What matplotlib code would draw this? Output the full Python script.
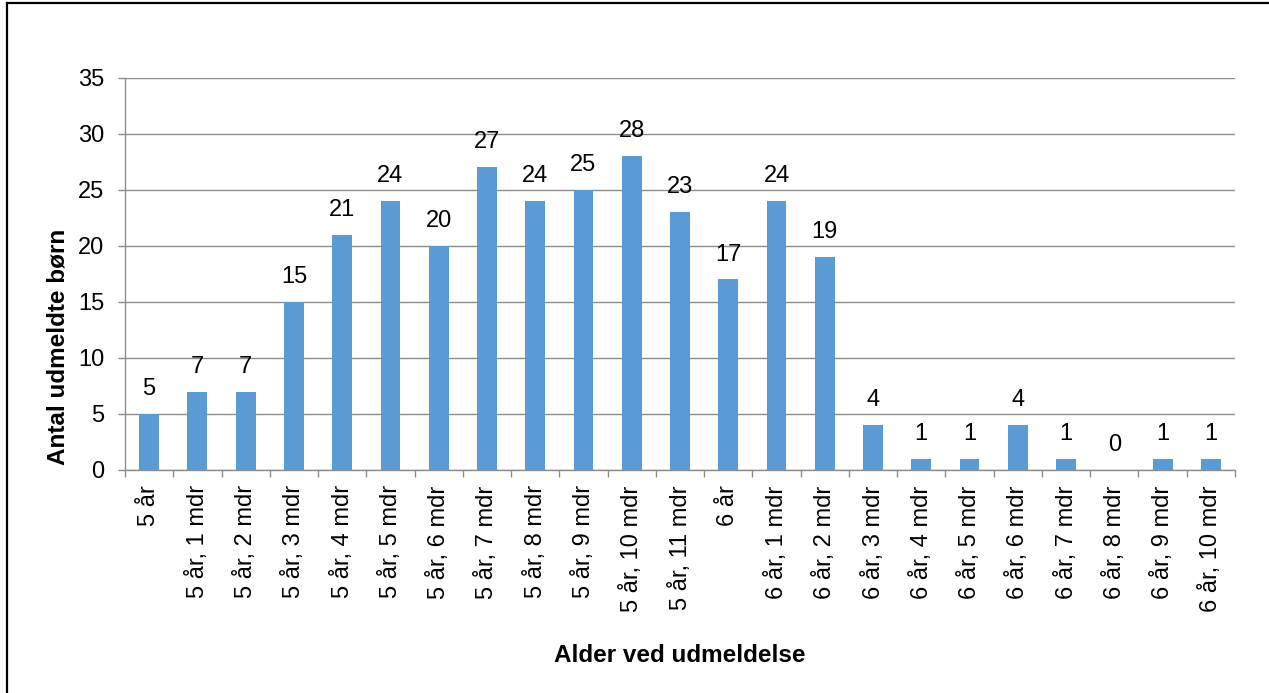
import matplotlib
matplotlib.use("Agg")
import matplotlib.pyplot as plt
from matplotlib.lines import Line2D
import numpy as np

plt.rcParams['font.family'] = ['Liberation Sans', 'DejaVu Sans']

categories = ["5 år", "5 år, 1 mdr", "5 år, 2 mdr", "5 år, 3 mdr", "5 år, 4 mdr",
              "5 år, 5 mdr", "5 år, 6 mdr", "5 år, 7 mdr", "5 år, 8 mdr", "5 år, 9 mdr",
              "5 år, 10 mdr", "5 år, 11 mdr", "6 år", "6 år, 1 mdr", "6 år, 2 mdr",
              "6 år, 3 mdr", "6 år, 4 mdr", "6 år, 5 mdr", "6 år, 6 mdr", "6 år, 7 mdr",
              "6 år, 8 mdr", "6 år, 9 mdr", "6 år, 10 mdr"]
values = [5, 7, 7, 15, 21, 24, 20, 27, 24, 25, 28, 23, 17, 24, 19, 4, 1, 1, 4, 1, 0, 1, 1]
yticks = [0, 5, 10, 15, 20, 25, 30, 35]

bar_color = "#5B9BD5"
grid_color = "#8C8C8C"
fs = 17

fig = plt.figure(figsize=(12.69, 6.93), dpi=100)
ax = fig.add_axes([125/1269, 1-470/693, (1235-125)/1269, (470-77.5)/693])

x = np.arange(len(categories))
ax.bar(x, values, width=0.41, color=bar_color, zorder=3)
for xi, v in zip(x, values):
    ax.annotate(str(v), (xi, v), xytext=(0, 13.5), textcoords="offset points",
                ha="center", va="baseline", fontsize=fs)

ax.set_xlim(-0.5, len(categories) - 0.5)
ax.set_ylim(0, 35)
ax.set_yticks(yticks)
ax.yaxis.grid(True, color=grid_color, linewidth=1, zorder=0)
ax.set_axisbelow(True)

ax.set_xticks(x)
ax.set_xticklabels(categories, rotation=90, fontsize=fs, va="top", ha="center")
ax.set_xticks(np.arange(-0.5, len(categories)), minor=True)
ax.tick_params(axis="x", which="major", length=0, pad=11)
ax.tick_params(axis="x", which="minor", length=5, color=grid_color, width=1)
ax.tick_params(axis="y", length=5, color=grid_color, width=1, labelsize=fs, pad=10)

for side in ["top", "right"]:
    ax.spines[side].set_visible(False)
for side in ["left", "bottom"]:
    ax.spines[side].set_color(grid_color)
    ax.spines[side].set_linewidth(1)

fig.text(58/1269, 1 - 347/693, "Antal udmeldte børn", rotation=90,
         ha="center", va="center", fontsize=17.5, fontweight="bold")
fig.text(680/1269, 1 - 656/693, "Alder ved udmeldelse",
         ha="center", va="center", fontsize=17.5, fontweight="bold")

# outer frame (only top and left visible in the reference)
fig.add_artist(Line2D([7/1269, 7/1269], [0, 1 - 3/693], color="black", linewidth=1.6,
                      transform=fig.transFigure))
fig.add_artist(Line2D([7/1269, 1], [1 - 3/693, 1 - 3/693], color="black", linewidth=1.6,
                      transform=fig.transFigure))

fig.savefig("out.png", dpi=100)
